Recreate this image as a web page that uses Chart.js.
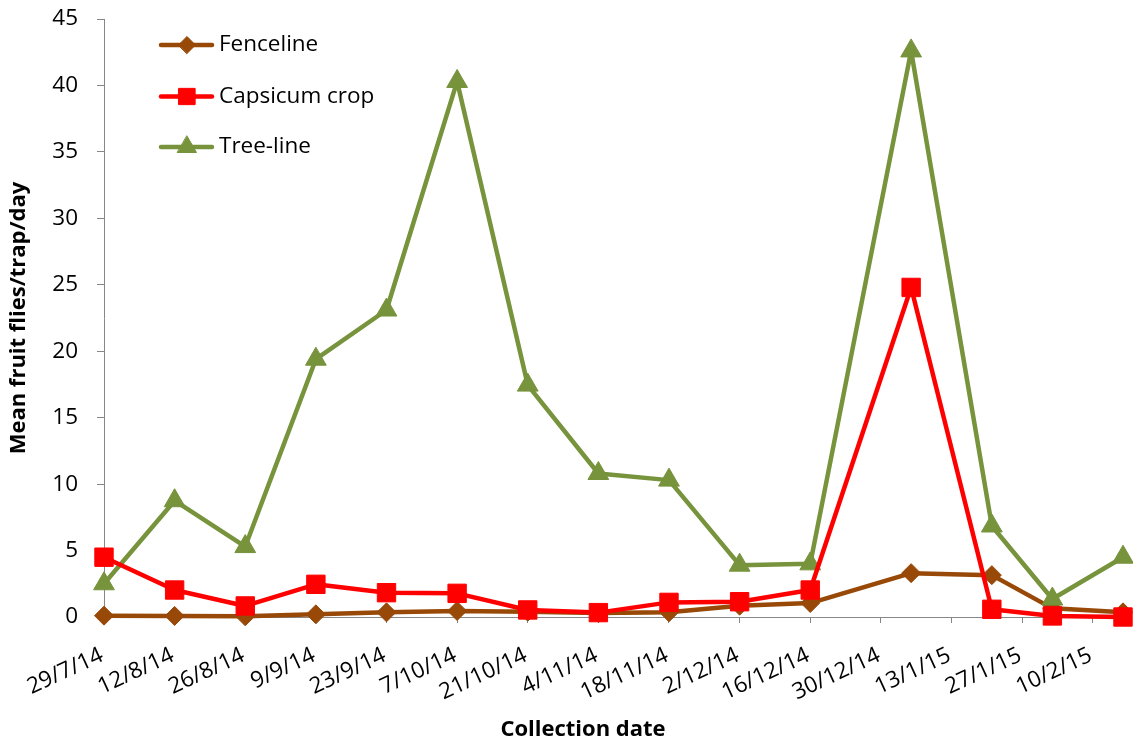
<!DOCTYPE html>
<html>
<head>
<meta charset="utf-8">
<script src="https://cdn.jsdelivr.net/npm/chart.js@4.4.1/dist/chart.umd.min.js"></script>
<style>
html,body{margin:0;padding:0;background:#fff;}
#wrap{width:1133px;height:746px;position:relative;}
canvas{display:block;}
</style>
</head>
<body>
<div id="wrap"><canvas id="c" width="1133" height="746"></canvas></div>
<script>
// ---- data ----
const tickLabels = ['29/7/14','12/8/14','26/8/14','9/9/14','23/9/14','7/10/14','21/10/14','4/11/14','18/11/14','2/12/14','16/12/14','30/12/14','13/1/15','27/1/15','10/2/15'];
const collectionDates = ['29/7/14','12/8/14','26/8/14','9/9/14','23/9/14','7/10/14','21/10/14','4/11/14','18/11/14','2/12/14','16/12/14','5/1/15','21/1/15','2/2/15','16/2/15'];
const seriesNames = ['Fenceline','Capsicum crop','Tree-line'];
const fenceline    = [0.1, 0.08, 0.05, 0.2, 0.35, 0.45, 0.4, 0.3, 0.35, 0.85, 1.05, 3.3, 3.15, 0.65, 0.35];
const capsicumCrop = [4.5, 2.03, 0.83, 2.46, 1.83, 1.78, 0.53, 0.33, 1.1, 1.15, 2.03, 24.8, 0.58, 0.08, 0.0];
const treeLine     = [2.5, 8.75, 5.3, 19.4, 23.1, 40.3, 17.45, 10.8, 10.3, 3.9, 4.0, 42.6, 6.85, 1.35, 4.5];
const yMin = 0, yMax = 45, yStep = 5;
const xTitle = 'Collection date';
const yTitle = 'Mean fruit flies/trap/day';

// ---- helpers ----
function dayOf(s){
  const [d,m,y] = s.split('/').map(Number);
  return Date.UTC(2000 + y, m - 1, d) / 86400000;
}
const origin = dayOf(collectionDates[0]);
const xDays = collectionDates.map(s => dayOf(s) - origin);
const tickValues = tickLabels.map(s => dayOf(s) - origin);
const toPoints = arr => arr.map((v, i) => ({x: xDays[i], y: v}));

const FONT = "'Open Sans', sans-serif";
const AXIS = '#878787';
const BROWN = '#984807', RED = '#FF0000', GREEN = '#77933C';

const lineLegend = {
  id: 'lineLegend',
  afterDraw(chart){
    const ctx = chart.ctx;
    const order = [0, 1, 2];
    const ys = [45, 96.5, 147];
    ctx.save();
    order.forEach((i, k) => {
      const ds = chart.data.datasets[i];
      const y = ys[k];
      ctx.strokeStyle = ds.borderColor;
      ctx.lineWidth = ds.borderWidth;
      ctx.lineCap = 'round';
      ctx.beginPath();
      ctx.moveTo(161, y);
      ctx.lineTo(212, y);
      ctx.stroke();
      ctx.fillStyle = ds.pointBackgroundColor;
      ctx.strokeStyle = ds.pointBorderColor;
      ctx.lineWidth = 1;
      Chart.helpers.drawPoint(ctx, {pointStyle: ds.pointStyle, rotation: 0, radius: ds.legendRadius, borderWidth: 1}, 187, y);
      ctx.fillStyle = '#000';
      ctx.font = "22.5px " + FONT;
      ctx.textAlign = 'left';
      ctx.textBaseline = 'middle';
      ctx.fillText(ds.label, 219, y);
    });
    // x-axis title
    ctx.font = "bold 22px " + FONT;
    ctx.textAlign = 'center';
    ctx.textBaseline = 'middle';
    ctx.fillStyle = '#000';
    ctx.fillText(xTitle, 583, 730);
    ctx.restore();
  }
};

new Chart(document.getElementById('c'), {
  type: 'line',
  data: {
    datasets: [
      {label: seriesNames[0], data: toPoints(fenceline), borderColor: BROWN, backgroundColor: BROWN,
       pointBackgroundColor: BROWN, pointBorderColor: BROWN, pointStyle: 'rectRot', pointRadius: 9.5, legendRadius: 8.5,
       borderWidth: 4.5, order: 2},
      {label: seriesNames[1], data: toPoints(capsicumCrop), borderColor: RED, backgroundColor: RED,
       pointBackgroundColor: RED, pointBorderColor: RED, pointStyle: 'rect', pointRadius: 13, legendRadius: 11.5,
       borderWidth: 4.5, order: 0},
      {label: seriesNames[2], data: toPoints(treeLine), borderColor: GREEN, backgroundColor: GREEN,
       pointBackgroundColor: GREEN, pointBorderColor: GREEN, pointStyle: 'triangle', pointRadius: 12, legendRadius: 11,
       borderWidth: 4.5, order: 1}
    ]
  },
  options: {
    responsive: false,
    animation: false,
    events: [],
    clip: false,
    datasets: { line: { clip: false, borderJoinStyle: 'round', borderCapStyle: 'round', tension: 0, pointBorderWidth: 1 } },
    layout: { autoPadding: false, padding: { top: 19, right: 10, bottom: 0, left: 0 } },
    plugins: { legend: { display: false }, tooltip: { enabled: false } },
    scales: {
      x: {
        type: 'linear',
        min: 0,
        max: xDays[xDays.length - 1],
        afterBuildTicks: s => { s.ticks = tickValues.map(v => ({value: v})); },
        afterFit: s => { s.height = 129; s.paddingLeft = 0; s.paddingRight = 0; },
        ticks: {
          autoSkip: false, minRotation: 25, maxRotation: 25, padding: 19, labelOffset: -2,
          color: '#000', font: { family: FONT, size: 22.5 },
          callback: v => tickLabels[tickValues.indexOf(v)]
        },
        grid: { display: true, drawOnChartArea: false, drawTicks: true, tickLength: 6, color: AXIS, tickColor: AXIS },
        border: { display: true, color: AXIS, width: 1 },
        title: { display: false, text: xTitle }
      },
      y: {
        min: yMin, max: yMax,
        afterFit: s => { s.width = 104; s.paddingTop = 0; s.paddingBottom = 0; },
        ticks: { stepSize: yStep, padding: 19, color: '#000', font: { family: FONT, size: 22.5 } },
        grid: { display: true, drawOnChartArea: false, drawTicks: true, tickLength: 7, color: AXIS, tickColor: AXIS },
        border: { display: true, color: AXIS, width: 1 },
        title: { display: true, text: yTitle, color: '#000', font: { family: FONT, size: 22, weight: 'bold' }, padding: { top: 6, bottom: 6 } }
      }
    }
  },
  plugins: [lineLegend]
});
</script>
</body>
</html>
